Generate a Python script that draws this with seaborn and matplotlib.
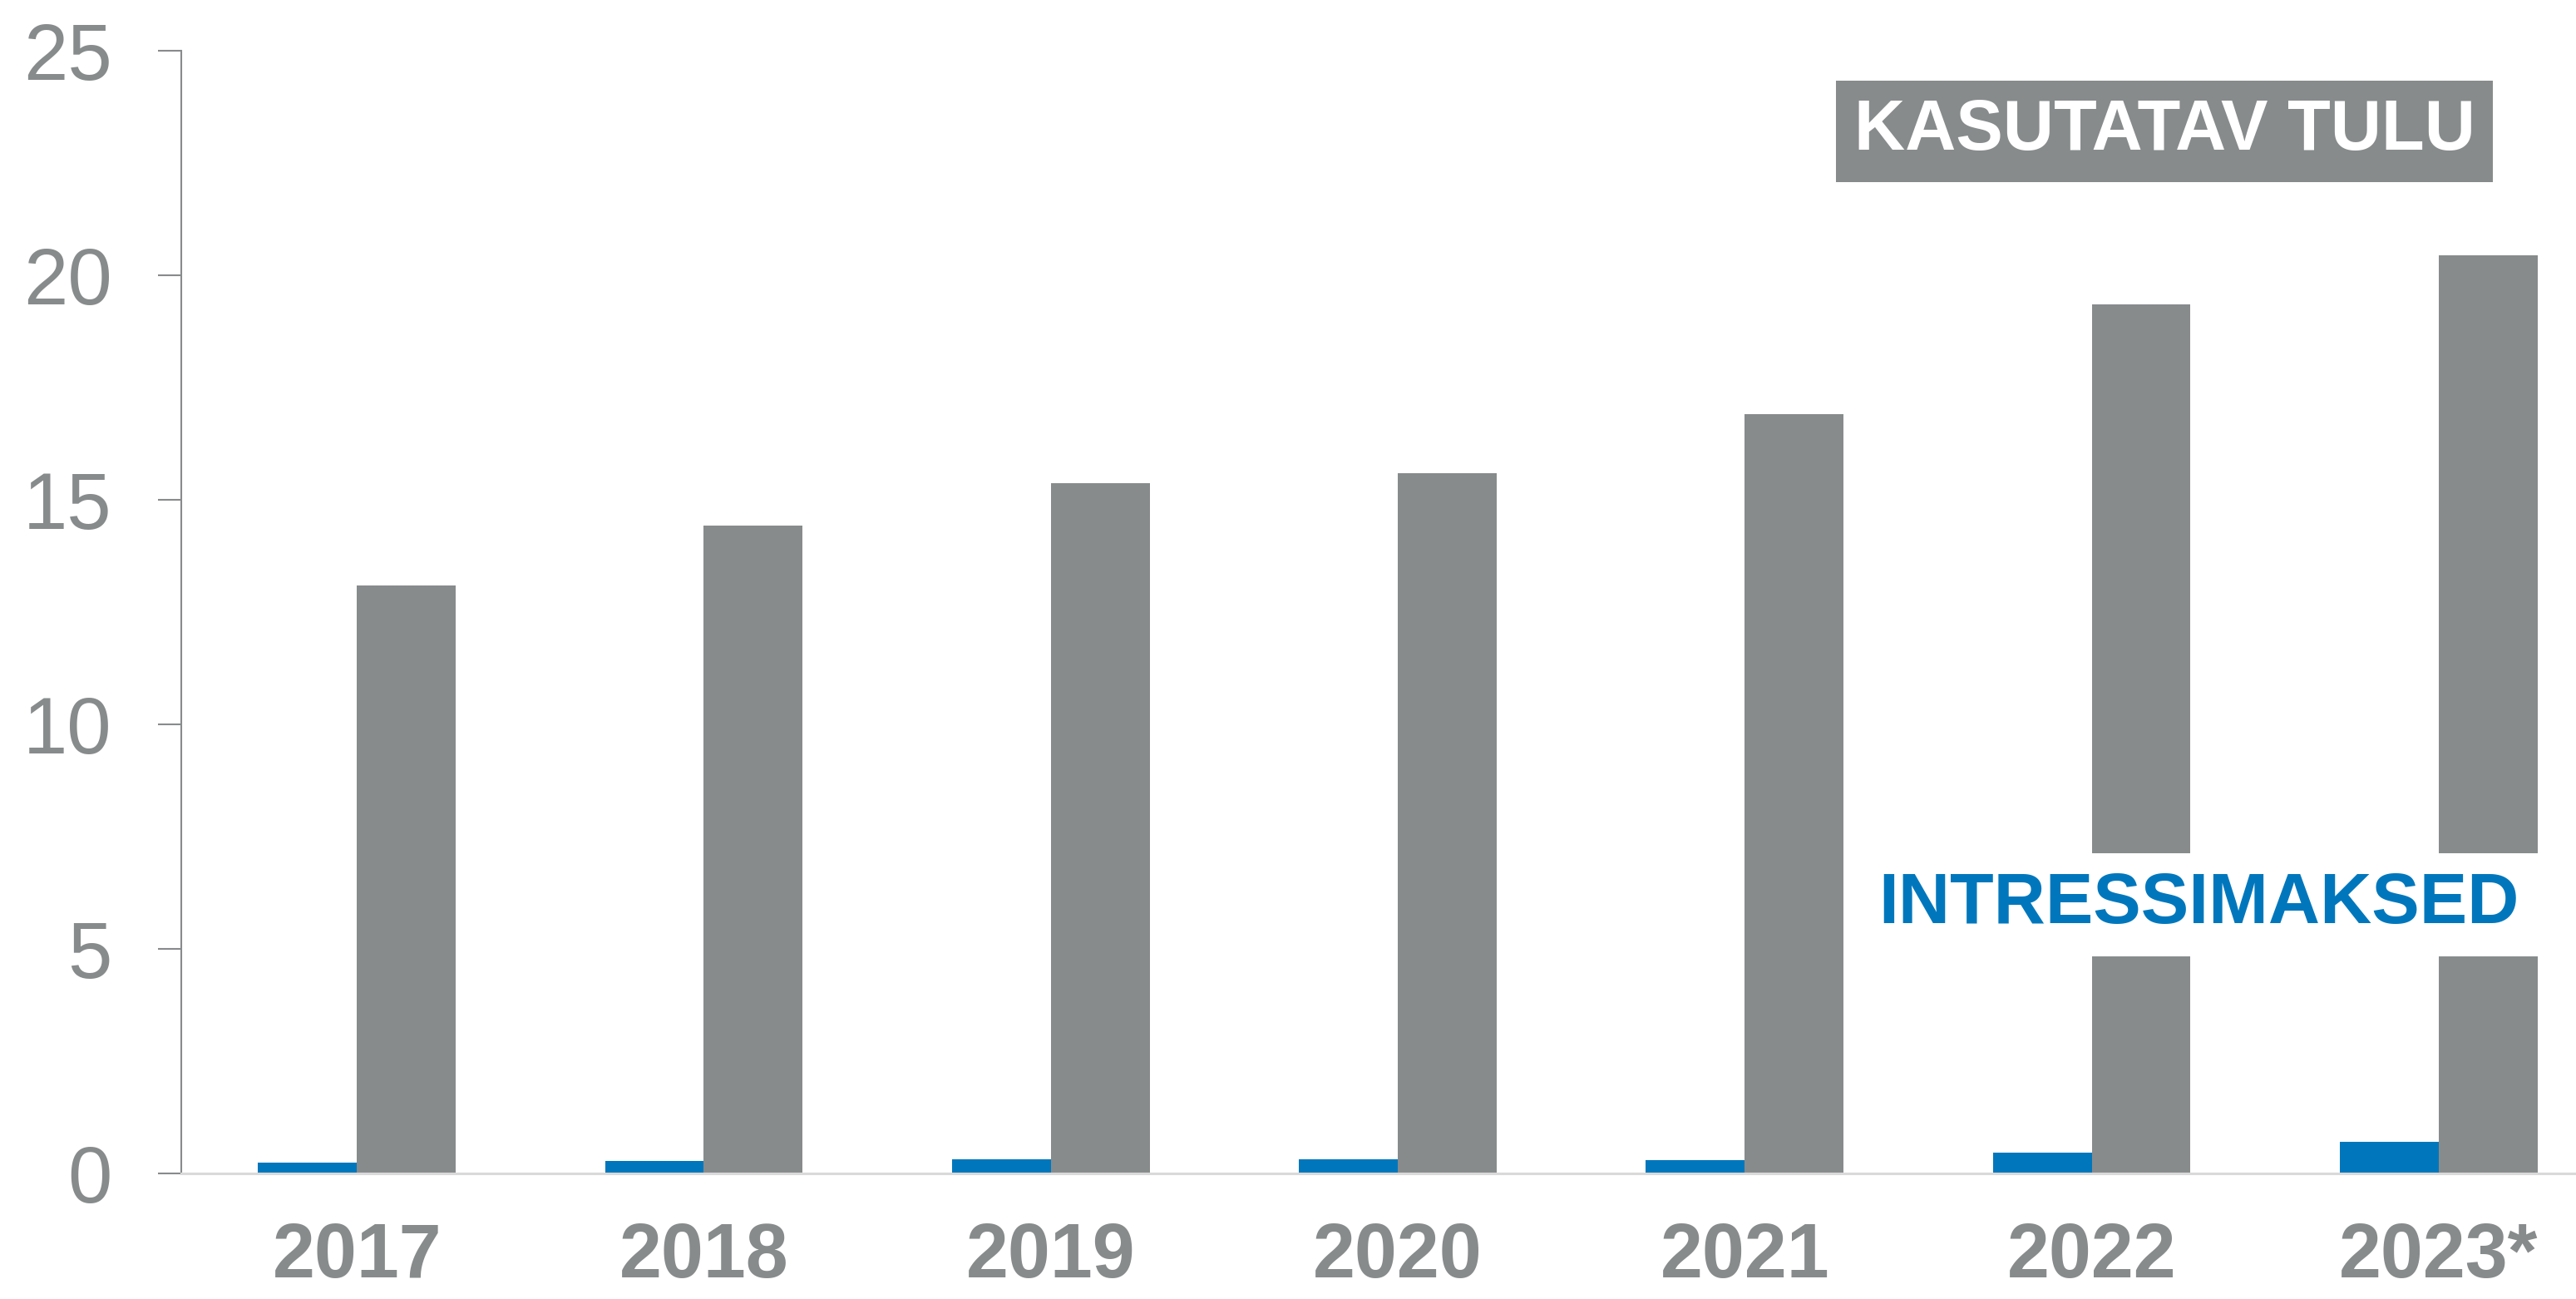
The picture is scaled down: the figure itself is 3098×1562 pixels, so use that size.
import pandas as pd
import matplotlib
matplotlib.use("Agg")
import matplotlib.pyplot as plt
import seaborn as sns

# data
years = ["2017", "2018", "2019", "2020", "2021", "2022", "2023*"]
intressimaksed = [0.24, 0.27, 0.31, 0.31, 0.29, 0.47, 0.71]
kasutatav_tulu = [13.10, 14.43, 15.37, 15.59, 16.91, 19.35, 20.44]
y_ticks = [0, 5, 10, 15, 20, 25]

GRAY = "#878B8C"
BLUE = "#0077BC"

df = pd.DataFrame({
    "year": years * 2,
    "series": ["INTRESSIMAKSED"] * len(years) + ["KASUTATAV TULU"] * len(years),
    "value": intressimaksed + kasutatav_tulu,
})

sns.set_style("white")
plt.rcParams["font.family"] = ["Liberation Sans", "DejaVu Sans"]

fig = plt.figure(figsize=(30.98, 15.62), dpi=100)
ax = fig.add_axes([0.0704, 0.0967, 0.9296, 0.961 - 0.0967])

sns.barplot(data=df, x="year", y="value", hue="series",
            hue_order=["INTRESSIMAKSED", "KASUTATAV TULU"],
            palette=[BLUE, GRAY], width=0.57, saturation=1,
            linewidth=0, legend=False, ax=ax)

ax.set_xlim(-0.506, 6.396)
ax.set_ylim(0, 25)
ax.set_yticks(y_ticks)
ax.set_xlabel("")
ax.set_ylabel("")

for side in ["top", "right"]:
    ax.spines[side].set_visible(False)
ax.spines["left"].set_color(GRAY)
ax.spines["left"].set_linewidth(1.5)
ax.spines["bottom"].set_color("#D9D9D9")
ax.spines["bottom"].set_linewidth(2.2)

ax.tick_params(axis="y", direction="out", length=20, width=1.5, color=GRAY,
               labelcolor=GRAY, labelsize=69, pad=40, left=True)
# keep the year labels fully inside the canvas
ax.tick_params(axis="x", length=0, labelcolor=GRAY, labelsize=66, pad=42)
for lbl in ax.get_xticklabels():
    lbl.set_fontweight("bold")

# series labels
ax.text(5.21, 23.2, "KASUTATAV TULU", color="white", fontsize=61,
        fontweight="bold", ha="center", va="center", zorder=5,
        bbox=dict(facecolor=GRAY, edgecolor="none", pad=15.5))
ax.text(5.31, 5.98, "INTRESSIMAKSED", color=BLUE, fontsize=62,
        fontweight="bold", ha="center", va="center", zorder=5,
        bbox=dict(facecolor="white", edgecolor="none", pad=16))

fig.savefig("out.png", dpi=100)
